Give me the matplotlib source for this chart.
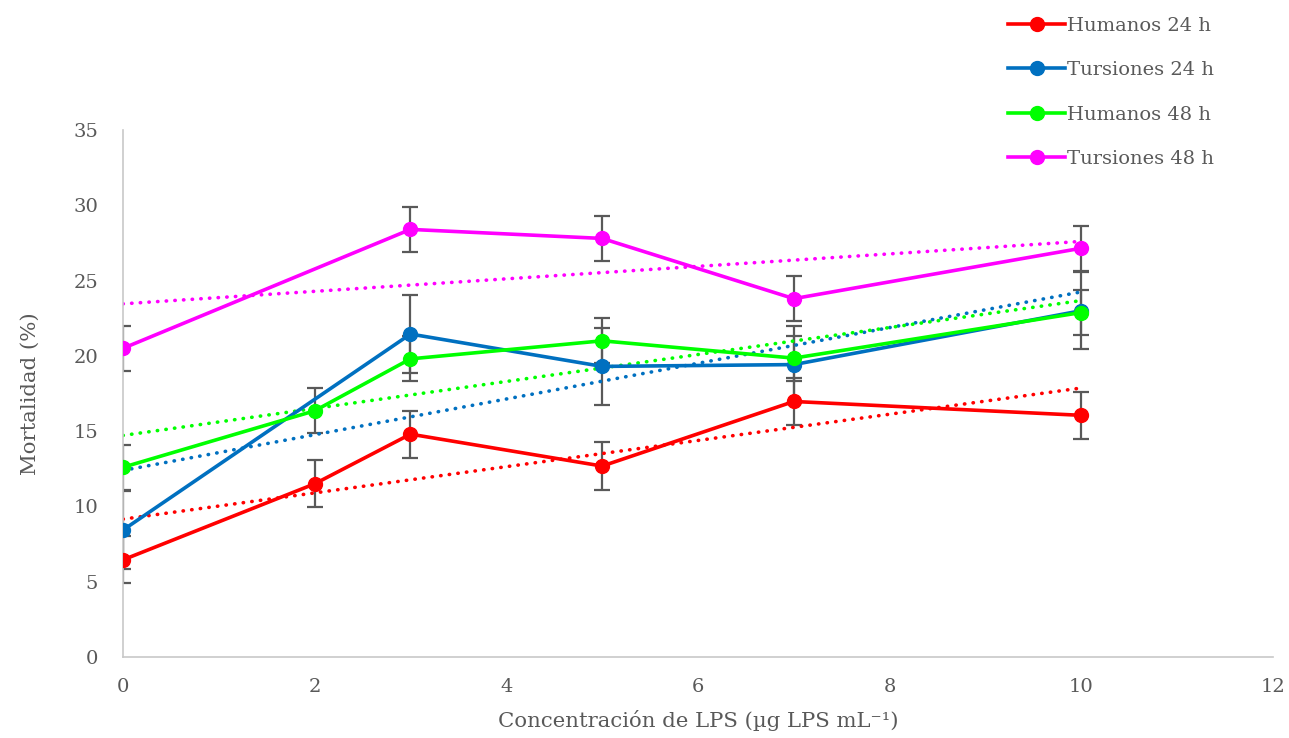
import matplotlib
matplotlib.use("Agg")
import matplotlib.pyplot as plt
import numpy as np

plt.rcParams['font.family'] = ['DejaVu Serif']

# ---- data ----
x_h24 = [0, 2, 3, 5, 7, 10]
y_h24 = [6.45, 11.5, 14.8, 12.68, 16.97, 16.05]
e_h24 = [1.57, 1.57, 1.57, 1.57, 1.57, 1.57]

x_t24 = [0, 3, 5, 7, 10]
y_t24 = [8.43, 21.45, 19.3, 19.42, 23.0]
e_t24 = [2.57, 2.57, 2.57, 2.57, 2.57]

x_h48 = [0, 2, 3, 5, 7, 10]
y_h48 = [12.6, 16.35, 19.8, 21.0, 19.85, 22.88]
e_h48 = [1.5, 1.5, 1.5, 1.5, 1.5, 1.5]

x_t48 = [0, 3, 5, 7, 10]
y_t48 = [20.5, 28.4, 27.8, 23.8, 27.15]
e_t48 = [1.49, 1.49, 1.49, 1.49, 1.49]

labels = ["Humanos 24 h", "Tursiones 24 h", "Humanos 48 h", "Tursiones 48 h"]
colors = ["#FF0000", "#0070C0", "#00FF00", "#FF00FF"]

series = [(x_h24, y_h24, e_h24), (x_t24, y_t24, e_t24),
          (x_h48, y_h48, e_h48), (x_t48, y_t48, e_t48)]

fig = plt.figure(figsize=(12.89, 7.38), dpi=100)
ax = fig.add_axes([0.0954, 0.1098, 0.8922, 0.714])

gray = "#595959"
handles = []
for i, ((xs, ys, es), lab, c) in enumerate(zip(series, labels, colors)):
    xs = np.array(xs, float); ys = np.array(ys, float)
    ax.errorbar(xs, ys, yerr=es, fmt='none', ecolor=gray, elinewidth=1.6,
                capsize=6, capthick=1.6, zorder=2)
    h, = ax.plot(xs, ys, color=c, lw=2.6, marker='o', ms=10, zorder=3 + i * 0.1,
                 label=lab)
    handles.append(h)
    # linear trend line
    m, b = np.polyfit(xs, ys, 1)
    xt = np.array([xs.min(), xs.max()])
    ax.plot(xt, m * xt + b, color=c, lw=2.6, linestyle=(0, (0.1, 2.3)),
            dash_capstyle='round', zorder=2.5)

ax.set_xlim(0, 12)
ax.set_ylim(0, 35)
ax.set_xticks(range(0, 13, 2))
ax.set_yticks(range(0, 36, 5))
ax.tick_params(axis='y', length=0, labelsize=14, colors=gray, pad=18)
ax.tick_params(axis='x', length=0, labelsize=14, colors=gray, pad=15)
for s in ['top', 'right']:
    ax.spines[s].set_visible(False)
for s in ['left', 'bottom']:
    ax.spines[s].set_color('#C8C8C8')
    ax.spines[s].set_linewidth(1.2)

ax.set_xlabel("Concentración de LPS (µg LPS mL⁻¹)", fontsize=15.3,
              color=gray, labelpad=10)
ax.set_ylabel("Mortalidad (%)", fontsize=15.3, color=gray, labelpad=24)

leg = fig.legend(handles=handles, loc='upper left', bbox_to_anchor=(0.776, 0.988),
                 frameon=False, fontsize=14, handlelength=2.95, handletextpad=0.1,
                 labelspacing=1.36, borderaxespad=0)
for t in leg.get_texts():
    t.set_color(gray)

fig.savefig("out.png", dpi=100)
